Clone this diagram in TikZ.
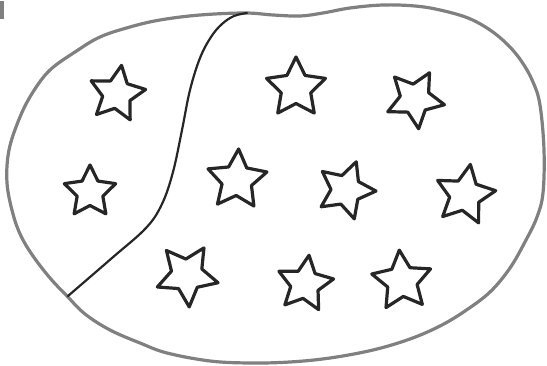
\documentclass[tikz,border=0pt]{standalone}
\usetikzlibrary{shapes.geometric}

\begin{document}
\begin{tikzpicture}[x=1pt,y=-1pt,
  blob/.style={draw=black!50, line width=3.2pt, line join=round},
  divider/.style={draw=black!85, line width=2.2pt, line cap=round},
  starmark/.style={star, star points=5, star point ratio=2.0, draw=black!85,
    line width=3.2pt, line join=round, inner sep=0pt}]

\useasboundingbox (0,0) rectangle (547,366);

% Outer blob
\draw[blob] plot[smooth cycle, tension=0.6] coordinates {
  (7,183) (9,150) (20,117) (33,92) (50,70) (75,52) (100,37) (130,27)
  (160,20) (200,15) (245,13) (273,15) (300,16) (323,13) (350,8) (383,5)
  (415,6) (440,10) (468,18) (490,30) (508,45) (522,62) (533,82) (540,105)
  (544,150) (543,193) (537,217) (526,240) (510,268) (490,292) (465,311)
  (440,326) (410,339) (373,350) (330,358) (290,362) (250,363) (210,361)
  (167,353) (140,343) (110,330) (85,314) (67,296) (50,278) (33,256)
  (21,236) (13,214)};

% Dividing curve
\draw[divider] plot[smooth, tension=0.6] coordinates {
  (247,13) (234,16) (222,24) (211,37) (200,58) (190,90) (182,130)
  (173,172) (162,204) (146,228) (112,258) (68,296)};

% Stars
\foreach \x/\y/\r/\s [count=\i] in {117/94/-9/58, 90/192/0/54, 296/88/0/62,
    415/99/-29/60, 237/180/-3/62, 346/190/-20/60, 465/195/-10/62,
    187/275/-32/64, 305/284/-8/58, 402/281/5/62}
  \node[starmark, rotate=\r, minimum size=\s pt] (star\i) at (\x,\y) {};

% Scan mark in the corner
\fill[black!50] (0,1) rectangle (4,19);

\end{tikzpicture}
\end{document}
